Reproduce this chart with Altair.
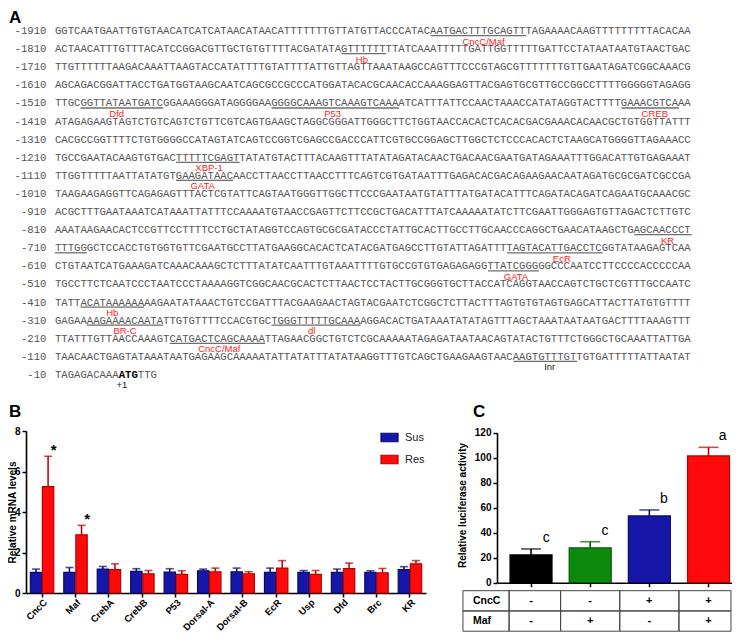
import altair as alt
import pandas as pd

FONT = "Liberation Sans"
MONO = "Liberation Mono"

# ---------------- Panel A: promoter sequence ----------------
row_starts = [-1910, -1810, -1710, -1610, -1510, -1410, -1310, -1210, -1110, -1010,
              -910, -810, -710, -610, -510, -410, -310, -210, -110, -10]
sequences = [
    "GGTCAATGAATTGTGTAACATCATCATAACATAACATTTTTTTGTTATGTTACCCATACAATGACTTTGCAGTTTAGAAAACAAGTTTTTTTTTACACAA",
    "ACTAACATTTGTTTACATCCGGACGTTGCTGTGTTTTACGATATAGTTTTTTTTATCAAATTTTTGATTGGTTTTTGATTCCTATAATAATGTAACTGAC",
    "TTGTTTTTTAAGACAAATTAAGTACCATATTTTGTATTTTATTGTTAGTTAAATAAGCCAGTTTCCCGTAGCGTTTTTTTGTTGAATAGATCGGCAAACG",
    "AGCAGACGGATTACCTGATGGTAAGCAATCAGCGCCGCCCATGGATACACGCAACACCAAAGGAGTTACGAGTGCGTTGCCGGCCTTTTGGGGGTAGAGG",
    "TTGCGGTTATAATGATCGGAAAGGGATAGGGGAAGGGGCAAAGTCAAAGTCAAAATCATTTATTCCAACTAAACCATATAGGTACTTTTGAAACGTCAAA",
    "ATAGAGAAGTAGTCTGTCAGTCTGTTCGTCAGTGAAGCTAGGCGGGATTGGGCTTCTGGTAACCACACTCACACGACGAAACACAACGCTGTGGTTATTT",
    "CACGCCGGTTTTCTGTGGGGCCATAGTATCAGTCCGGTCGAGCCGACCCATTCGTGCCGGAGCTTGGCTCTCCCACACTCTAAGCATGGGGTTAGAAACC",
    "TGCCGAATACAAGTGTGACTTTTTCGAGTTATATGTACTTTACAAGTTTATATAGATACAACTGACAACGAATGATAGAAATTTGGACATTGTGAGAAAT",
    "TTGGTTTTTAATTATATGTGAAGATAACAACCTTAACCTTAACCTTTCAGTCGTGATAATTTGAGACACGACAGAAGAACAATAGATGCGCGATCGCCGA",
    "TAAGAAGAGGTTCAGAGAGTTTACTCGTATTCAGTAATGGGTTGGCTTCCCGAATAATGTATTTATGATACATTTCAGATACAGATCAGAATGCAAACGC",
    "ACGCTTTGAATAAATCATAAATTATTTCCAAAATGTAACCGAGTTCTTCCGCTGACATTTATCAAAAATATCTTCGAATTGGGAGTGTTAGACTCTTGTC",
    "AAATAAGAACACTCCGTTCCTTTTCCTGCTATAGGTCCAGTGCGCGATACCCTATTGCACTTGCCTTGCAACCCAGGCTGAACATAAGCTGAGCAACCCT",
    "TTTGGGCTCCACCTGTGGTGTTCGAATGCCTTATGAAGGCACACTCATACGATGAGCCTTGTATTAGATTTTAGTACATTGACCTCGGTATAAGAGTCAA",
    "CTGTAATCATGAAAGATCAAACAAAGCTCTTTATATCAATTTGTAAATTTTGTGCCGTGTGAGAGAGGTTATCGGGGGCCCAATCCTTCCCCACCCCCAA",
    "TGCCTTCTCAATCCCTAATCCCTAAAAGGTCGGCAACGCACTCTTAACTCCTACTTGCGGGTGCTTACCATCAGGTAACCAGTCTGCTCGTTTGCCAATC",
    "TATTACATAAAAAAAAGAATATAAACTGTCCGATTTACGAAGAACTAGTACGAATCTCGGCTCTTACTTTAGTGTGTAGTGAGCATTACTTATGTGTTTT",
    "GAGAAAAGAAAACAATATTGTGTTTTCCACGTGCTGGGTTTTTGCAAAAGGACACTGATAAATATATAGTTTAGCTAAATAATAATGACTTTTAAAGTTT",
    "TTATTTGTTAACCAAAGTCATGACTCAGCAAAATTAGAACGGCTGTCTCGCAAAAATAGAGATAATAACAGTATACTGTTTCTGGGCTGCAAATTATTGA",
    "TAACAACTGAGTATAAATAATGAGAAGCAAAAATATTATATTTATATAAGGTTTGTCAGCTGAAGAAGTAACAAGTGTTTGTTGTGATTTTTATTAATAT",
    "TAGAGACAAAATGTTG",
]
atg_start = 10
atg_len = 3

motif_row = [0, 1, 4, 4, 4, 7, 8, 11, 12, 12, 13, 15, 16, 16, 17, 18]
motif_start = [59, 45, 4, 34, 89, 19, 19, 91, 0, 71, 68, 4, 5, 34, 18, 72]
motif_end = [74, 52, 17, 54, 98, 29, 28, 100, 5, 86, 76, 14, 17, 48, 33, 82]

label_text = ["CncC/Maf", "Hb", "Dfd", "P53", "CREB", "XBP-1", "GATA", "KR", "EcR",
              "GATA", "Hb", "BR-C", "dl", "CncC/Maf", "Inr", "+1"]
label_row = [0, 1, 4, 4, 4, 7, 8, 11, 12, 13, 15, 16, 16, 17, 18, 19]
label_pos = [67.3, 48.2, 9.7, 43.6, 94.2, 24.2, 23.2, 96.2, 79.6, 72.4, 9.0, 11.0, 40.3, 25.8, 77.7, 10.5]
label_kind = ["tf"] * 14 + ["core", "core"]

# ---------------- Panel B: qPCR ----------------
genes = ["CncC", "Maf", "CrebA", "CrebB", "P53", "Dorsal-A", "Dorsal-B", "EcR", "Usp", "Dfd", "Brc", "KR"]
sus_mean = [1.02, 1.02, 1.18, 1.07, 1.03, 1.10, 1.05, 1.02, 1.02, 1.02, 1.02, 1.15]
sus_sem = [0.16, 0.24, 0.13, 0.13, 0.17, 0.08, 0.18, 0.21, 0.09, 0.16, 0.08, 0.15]
res_mean = [5.25, 2.87, 1.15, 0.95, 0.92, 1.05, 0.95, 1.23, 0.92, 1.20, 1.00, 1.44]
res_sem = [1.50, 0.47, 0.29, 0.16, 0.18, 0.18, 0.10, 0.37, 0.19, 0.28, 0.21, 0.16]
res_sig = ["*", "*", "", "", "", "", "", "", "", "", "", ""]
series = ["Sus", "Res"]

# ---------------- Panel C: luciferase ----------------
cncc = ["-", "-", "+", "+"]
maf = ["-", "+", "-", "+"]
luc_mean = [22.2, 27.8, 53.4, 101.4]
luc_sem = [4.8, 5.0, 4.8, 6.9]
letters = ["c", "c", "b", "a"]
table_rows = ["CncC", "Maf"]

# ================= build tables =================
df_rows = pd.DataFrame({"row": list(range(len(row_starts))), "pos": [str(v) for v in row_starts]})

seg = {"row": [], "start": [], "text": [], "bold": []}
for i, s in enumerate(sequences):
    if i < len(sequences) - 1:
        seg["row"].append(i); seg["start"].append(0); seg["text"].append(s); seg["bold"].append(False)
    else:
        parts = [(0, s[:atg_start], False), (atg_start, s[atg_start:atg_start + atg_len], True),
                 (atg_start + atg_len, s[atg_start + atg_len:], False)]
        for st, t, b in parts:
            seg["row"].append(i); seg["start"].append(st); seg["text"].append(t); seg["bold"].append(b)
df_seg = pd.DataFrame(seg)
df_motif = pd.DataFrame({"row": motif_row, "start": motif_start, "end": motif_end})
df_lab = pd.DataFrame({"row": label_row, "pos": label_pos, "text": label_text, "kind": label_kind})

recs = []
for i, g in enumerate(genes):
    recs.append({"gene": g, "series": "Sus", "mean": sus_mean[i], "top": sus_mean[i] + sus_sem[i], "star": ""})
    recs.append({"gene": g, "series": "Res", "mean": res_mean[i], "top": res_mean[i] + res_sem[i], "star": res_sig[i]})
df_b = pd.DataFrame(recs)

cond = [f"CncC{a}/Maf{b}" for a, b in zip(cncc, maf)]
df_c = pd.DataFrame({"cond": cond, "mean": luc_mean,
                     "top": [m + s for m, s in zip(luc_mean, luc_sem)], "letter": letters})

col_edges = [-1.15, -0.37, 0.5, 1.5, 2.5, 3.38]
cells = []
for r in range(len(table_rows)):
    for c in range(len(col_edges) - 1):
        cells.append({"left": col_edges[c], "right": col_edges[c + 1], "r0": r, "r1": r + 1})
df_cells = pd.DataFrame(cells)
df_tlab = pd.DataFrame({"r": [r + 0.5 for r in range(len(table_rows))], "text": table_rows})
signs = []
for i in range(len(cond)):
    signs.append({"i": i, "r": 0.5, "text": cncc[i]})
    signs.append({"i": i, "r": 1.5, "text": maf[i]})
df_signs = pd.DataFrame(signs)

df_panels = pd.DataFrame({"text": ["A", "B", "C"], "col": ["left", "left", "right"], "rowp": ["top", "bottom", "bottom"]})

# ================= scales =================
def lin(domain, rng):
    return alt.Scale(domain=domain, range=rng, nice=False, zero=False)

ax = lin([0, 100], [47, 683.7])
def ay(shift):
    return lin([0, 19], [23 + shift, 366.9 + shift])

xb = alt.Scale(domain=genes, range=[18, 418], paddingInner=0.3, paddingOuter=0.13)
yb = lin([0, 8], [585, 423])
xob = alt.Scale(domain=series, paddingInner=0.06, paddingOuter=0)
fill_b = alt.Scale(domain=series, range=["#1616a8", "#ff0a0a"])
stroke_b = alt.Scale(domain=series, range=["#08086e", "#b80000"])

xc = alt.Scale(domain=cond, range=[489, 724], paddingInner=0.29, paddingOuter=0.131, align=0.84)
yc = lin([0, 120], [574.7, 424.7])
fill_c = alt.Scale(domain=cond, range=["#000000", "#0b8a0b", "#1616a8", "#ff0a0a"])
stroke_c = alt.Scale(domain=cond, range=["#000000", "#045a04", "#08086e", "#b80000"])
xt = lin([0, 3], [523, 700.5])
yt = lin([0, 2], [582.7, 623.2])

axis_common = dict(labelFont=FONT, labelFontWeight="bold", labelColor="black",
                   domainColor="black", domainWidth=1.6, tickColor="black", tickWidth=1.5,
                   tickSize=4, grid=False, titleFont=FONT, titleFontWeight="bold",
                   titleFontSize=10, titleColor="black")

# ================= Panel A layers =================
seq_color = "#555555"
line_nums = alt.Chart(df_rows).mark_text(font=MONO, fontSize=10.6, align="right", baseline="middle",
                                         color=seq_color).encode(
    x=alt.XDatum(-1.35, type="quantitative", scale=ax, axis=None),
    y=alt.Y("row:Q", scale=ay(0), axis=None),
    text="pos:N")

seq_plain = alt.Chart(df_seg[~df_seg["bold"]]).mark_text(font=MONO, fontSize=10.6, align="left",
                                                          baseline="middle", color=seq_color).encode(
    x=alt.X("start:Q", scale=ax, axis=None),
    y=alt.Y("row:Q", scale=ay(0), axis=None),
    text="text:N")

seq_bold = alt.Chart(df_seg[df_seg["bold"]]).mark_text(font=MONO, fontSize=10.6, align="left",
                                                        baseline="middle", fontWeight="bold",
                                                        color="black").encode(
    x=alt.X("start:Q", scale=ax, axis=None),
    y=alt.Y("row:Q", scale=ay(0), axis=None),
    text="text:N")

underlines = alt.Chart(df_motif).mark_rule(color="#6e6e6e", strokeWidth=1.3).encode(
    x=alt.X("start:Q", scale=ax, axis=None),
    x2="end:Q",
    y=alt.Y("row:Q", scale=ay(4.6), axis=None))

labels_a = alt.Chart(df_lab).mark_text(font=FONT, fontSize=9.5, align="center", baseline="middle").encode(
    x=alt.X("pos:Q", scale=ax, axis=None),
    y=alt.Y("row:Q", scale=ay(10.5), axis=None),
    text="text:N",
    color=alt.Color("kind:N", scale=alt.Scale(domain=["tf", "core"], range=["#ff1a1a", "#222222"]),
                    legend=None))

# ================= Panel B layers =================
legend_b = alt.Legend(orient="none", legendX=372, legendY=420, title=None,
                      symbolType="M-1,-0.5H1V0.5H-1Z", symbolSize=289, symbolStrokeWidth=1.2,
                      labelFont=FONT, labelFontSize=11, labelColor="#222222", labelOffset=6,
                      rowPadding=5, padding=0)

bars_b = alt.Chart(df_b).mark_bar(strokeWidth=1.2).encode(
    x=alt.X("gene:N", scale=xb, axis=alt.Axis(orient="bottom", offset=-39, title=None, labelAngle=-45,
                                             labelAlign="right", labelBaseline="top", labelPadding=0,
                                             labelFontSize=9.5, labelOverlap=False, **axis_common)),
    xOffset=alt.XOffset("series:N", scale=xob),
    y=alt.Y("mean:Q", scale=yb, axis=alt.Axis(orient="left", offset=-18, values=[0, 2, 4, 6, 8],
                                             title="Relative mRNA levels", titleX=-14, titleY=504,
                                             titleAngle=270, titleAlign="center", titleBaseline="middle",
                                             labelPadding=2, labelFontSize=10, **axis_common)),
    fill=alt.Fill("series:N", scale=fill_b, legend=legend_b),
    stroke=alt.Stroke("series:N", scale=stroke_b, legend=legend_b))

err_b = alt.Chart(df_b).mark_rule(strokeWidth=1.5).encode(
    x=alt.X("gene:N", scale=xb, axis=None),
    xOffset=alt.XOffset("series:N", scale=xob),
    y=alt.Y("mean:Q", scale=yb, axis=None),
    y2="top:Q",
    stroke=alt.Stroke("series:N", scale=stroke_b, legend=None))

caps_b = alt.Chart(df_b).mark_tick(size=8, thickness=1.6).encode(
    x=alt.X("gene:N", scale=xb, axis=None),
    xOffset=alt.XOffset("series:N", scale=xob),
    y=alt.Y("top:Q", scale=yb, axis=None),
    color=alt.Color("series:N", scale=stroke_b, legend=None))

stars_b = alt.Chart(df_b[df_b["star"] != ""]).mark_text(font=FONT, fontSize=15, fontWeight="bold",
                                                         baseline="alphabetic", dy=-1, color="black").encode(
    x=alt.X("gene:N", scale=xb, axis=None),
    xOffset=alt.XOffset("series:N", scale=xob),
    y=alt.Y("top:Q", scale=yb, axis=None),
    text="star:N")

# ================= Panel C layers =================
bars_c = alt.Chart(df_c).mark_bar(strokeWidth=1.2).encode(
    x=alt.X("cond:N", scale=xc, axis=alt.Axis(orient="bottom", offset=-49.3, title=None, labels=False,
                                             **axis_common)),
    y=alt.Y("mean:Q", scale=yc, axis=alt.Axis(orient="left", offset=-489,
                                             values=[0, 20, 40, 60, 80, 100, 120],
                                             title="Relative luciferase activity", titleX=-35, titleY=497,
                                             titleAngle=270, titleAlign="center", titleBaseline="middle",
                                             labelPadding=2, labelFontSize=10, **axis_common)),
    fill=alt.Fill("cond:N", scale=fill_c, legend=None),
    stroke=alt.Stroke("cond:N", scale=stroke_c, legend=None))

err_c = alt.Chart(df_c).mark_rule(strokeWidth=1.6).encode(
    x=alt.X("cond:N", scale=xc, axis=None),
    y=alt.Y("mean:Q", scale=yc, axis=None),
    y2="top:Q",
    stroke=alt.Stroke("cond:N", scale=stroke_c, legend=None))

caps_c = alt.Chart(df_c).mark_tick(size=20, thickness=1.6).encode(
    x=alt.X("cond:N", scale=xc, axis=None),
    y=alt.Y("top:Q", scale=yc, axis=None),
    color=alt.Color("cond:N", scale=stroke_c, legend=None))

letters_c = alt.Chart(df_c).mark_text(font=FONT, fontSize=14, baseline="alphabetic", dy=-7,
                                      color="black").encode(
    x=alt.X("cond:N", scale=xc, axis=None),
    y=alt.Y("top:Q", scale=yc, axis=None),
    text="letter:N")

table_cells = alt.Chart(df_cells).mark_rect(fill="white", fillOpacity=0, stroke="#444444",
                                            strokeWidth=1).encode(
    x=alt.X("left:Q", scale=xt, axis=None),
    x2="right:Q",
    y=alt.Y("r0:Q", scale=yt, axis=None),
    y2="r1:Q")

table_labels = alt.Chart(df_tlab).mark_text(font=FONT, fontSize=10.5, fontWeight="bold", align="left",
                                            baseline="middle", dx=10, color="black").encode(
    x=alt.XDatum(col_edges[0], type="quantitative", scale=xt, axis=None),
    y=alt.Y("r:Q", scale=yt, axis=None),
    text="text:N")

table_signs = alt.Chart(df_signs).mark_text(font=FONT, fontSize=11, fontWeight="bold", align="center",
                                            baseline="middle", color="black").encode(
    x=alt.X("i:Q", scale=xt, axis=None),
    y=alt.Y("r:Q", scale=yt, axis=None),
    text="text:N")

# ================= panel letters =================
panel_letters = alt.Chart(df_panels).mark_text(font=FONT, fontSize=17, fontWeight="bold", align="left",
                                               baseline="alphabetic", color="black").encode(
    x=alt.X("col:N", scale=alt.Scale(type="point", domain=["left", "right"], range=[1, 465], padding=0),
            axis=None),
    y=alt.Y("rowp:N", scale=alt.Scale(type="point", domain=["top", "bottom"], range=[14.5, 409], padding=0),
            axis=None),
    text="text:N")

chart = alt.layer(
    line_nums, seq_plain, seq_bold, underlines, labels_a,
    bars_b, err_b, caps_b, stars_b,
    err_c, caps_c, bars_c, letters_c, table_cells, table_labels, table_signs,
    panel_letters,
).resolve_scale(
    x="independent", y="independent", xOffset="independent",
    color="independent", fill="independent", stroke="independent",
).properties(
    width=724, height=624, padding=0, autosize=alt.AutoSizeParams(type="none"),
).configure_view(strokeWidth=0)

chart.save("out.html", embed_options={"renderer": "svg", "actions": False})
